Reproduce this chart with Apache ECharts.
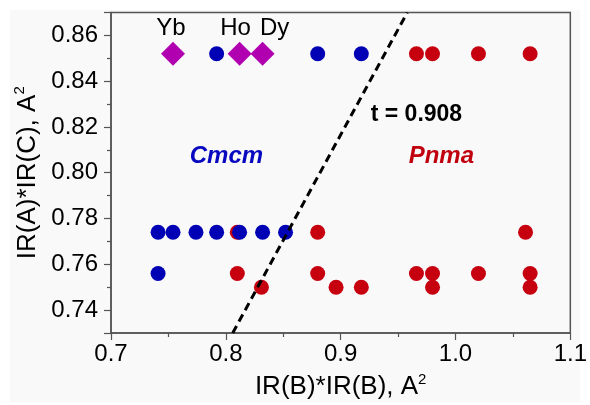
<!DOCTYPE html>
<html>
<head>
<meta charset="utf-8">
<script src="https://cdn.jsdelivr.net/npm/echarts@6/dist/echarts.min.js"></script>
<style>
  html, body { margin: 0; padding: 0; background: #ffffff; }
  #main { width: 590px; height: 405px; }
</style>
</head>
<body>
<div id="main"></div>
<script>
// Pnma (red) points
var pnmaX = [0.966, 0.980, 1.020, 1.065, 0.810, 0.880, 1.061, 0.810, 0.880, 0.966, 0.980, 1.020, 1.065, 0.831, 0.896, 0.918, 0.980, 1.065];
var pnmaY = [0.852, 0.852, 0.852, 0.852, 0.774, 0.774, 0.774, 0.756, 0.756, 0.756, 0.756, 0.756, 0.756, 0.750, 0.750, 0.750, 0.750, 0.750];
// Cmcm (blue) points
var cmcmX = [0.792, 0.880, 0.918, 0.741, 0.754, 0.774, 0.792, 0.812, 0.832, 0.852, 0.741];
var cmcmY = [0.852, 0.852, 0.852, 0.774, 0.774, 0.774, 0.774, 0.774, 0.774, 0.774, 0.756];
// Yb, Ho, Dy diamonds
var ionNames = ['Yb', 'Ho', 'Dy'];
var ionX = [0.754, 0.812, 0.832];
var ionY = [0.852, 0.852, 0.852];
// t = 0.908 boundary
var lineX = [0.806, 0.958];
var lineY = [0.730, 0.870];

var FONT = '"Liberation Sans", Arial, sans-serif';

function pairs(xs, ys) {
    var out = [];
    for (var i = 0; i < xs.length; i++) {
        out.push([xs[i], ys[i]]);
    }
    return out;
}

var myChart = echarts.init(document.getElementById('main'));

var ionOffsets = [[-2, 0], [-4, 0], [12, 0]];
var ionData = [];
for (var i = 0; i < ionNames.length; i++) {
    ionData.push({
        name: ionNames[i],
        value: [ionX[i], ionY[i]],
        label: { offset: ionOffsets[i] }
    });
}

// axis title with superscript 2
var titleRich = {
    t: { fontFamily: FONT, fontSize: 26, color: '#000', lineHeight: 30 },
    s: { fontFamily: FONT, fontSize: 15, color: '#000', verticalAlign: 'top', lineHeight: 14 }
};

var option = {
    backgroundColor: '#ffffff',
    animation: false,
    graphic: [{
        type: 'rect',
        z: -10,
        shape: { x: 10, y: 10, width: 570, height: 392 },
        style: { fill: '#f9f9f9' }
    }],
    grid: {
        left: 111,
        right: 17,
        top: 12.5,
        bottom: 69,
        show: true,
        borderColor: '#555',
        borderWidth: 1.5,
        backgroundColor: 'transparent'
    },
    xAxis: {
        type: 'value',
        min: 0.7,
        max: 1.1,
        interval: 0.1,
        name: '{t|IR(B)*IR(B), A}{s|2}',
        nameLocation: 'middle',
        nameGap: 39,
        nameTextStyle: { rich: titleRich },
        axisLine: { lineStyle: { color: '#555', width: 1.5 } },
        axisTick: { show: true, inside: false, length: 7, lineStyle: { color: '#555', width: 1.2 } },
        minorTick: { show: true, splitNumber: 2, length: 4, lineStyle: { color: '#555', width: 1.2 } },
        splitLine: { show: false },
        axisLabel: {
            margin: 9,
            fontFamily: FONT,
            fontSize: 24,
            color: '#000',
            formatter: function (v) { return v.toFixed(1); }
        }
    },
    yAxis: {
        type: 'value',
        min: 0.73,
        max: 0.87,
        splitNumber: 7,
        name: '{t|IR(A)*IR(C), A}{s|2}',
        nameLocation: 'middle',
        nameGap: 66,
        nameTextStyle: { rich: titleRich },
        axisLine: { lineStyle: { color: '#555', width: 1.5 } },
        axisTick: { show: true, inside: false, length: 7, lineStyle: { color: '#555', width: 1.2 } },
        minorTick: { show: true, splitNumber: 2, length: 4, lineStyle: { color: '#555', width: 1.2 } },
        splitLine: { show: false },
        axisLabel: {
            margin: 13,
            fontFamily: FONT,
            fontSize: 24,
            color: '#000',
            showMinLabel: false,
            showMaxLabel: false,
            formatter: function (v) { return v.toFixed(2); }
        }
    },
    series: [
        {
            name: 'Pnma',
            type: 'scatter',
            symbol: 'circle',
            symbolSize: 15,
            z: 2,
            itemStyle: { color: '#c6000f', opacity: 1 },
            data: pairs(pnmaX, pnmaY)
        },
        {
            name: 'Cmcm',
            type: 'scatter',
            symbol: 'circle',
            symbolSize: 15,
            z: 3,
            itemStyle: { color: '#0000b4', opacity: 1 },
            data: pairs(cmcmX, cmcmY)
        },
        {
            name: 'ions',
            type: 'scatter',
            symbol: 'diamond',
            symbolSize: 24,
            z: 4,
            itemStyle: { color: '#b000b0', opacity: 1 },
            label: {
                show: true,
                position: 'top',
                distance: 1,
                formatter: '{b}',
                fontFamily: FONT,
                fontSize: 24,
                color: '#000'
            },
            data: ionData
        },
        {
            name: 'tolerance',
            type: 'line',
            z: 5,
            symbol: 'none',
            silent: true,
            lineStyle: { color: '#000', width: 3, type: [8, 5] },
            data: pairs(lineX, lineY)
        },
        {
            name: 'notes',
            type: 'scatter',
            symbolSize: 0,
            z: 6,
            silent: true,
            itemStyle: { opacity: 1 },
            label: {
                show: true,
                position: 'inside',
                formatter: '{b}',
                fontFamily: FONT,
                fontWeight: 'bold',
                fontSize: 24
            },
            data: [
                { name: 'Cmcm', value: [0.8005, 0.807], label: { color: '#0808c0', fontStyle: 'italic' } },
                { name: 'Pnma', value: [0.9877, 0.807], label: { color: '#c0000f', fontStyle: 'italic' } },
                { name: 't = 0.908', value: [0.966, 0.8252], label: { color: '#000', fontSize: 23 } }
            ]
        }
    ]
};
myChart.setOption(option);
</script>
</body>
</html>
